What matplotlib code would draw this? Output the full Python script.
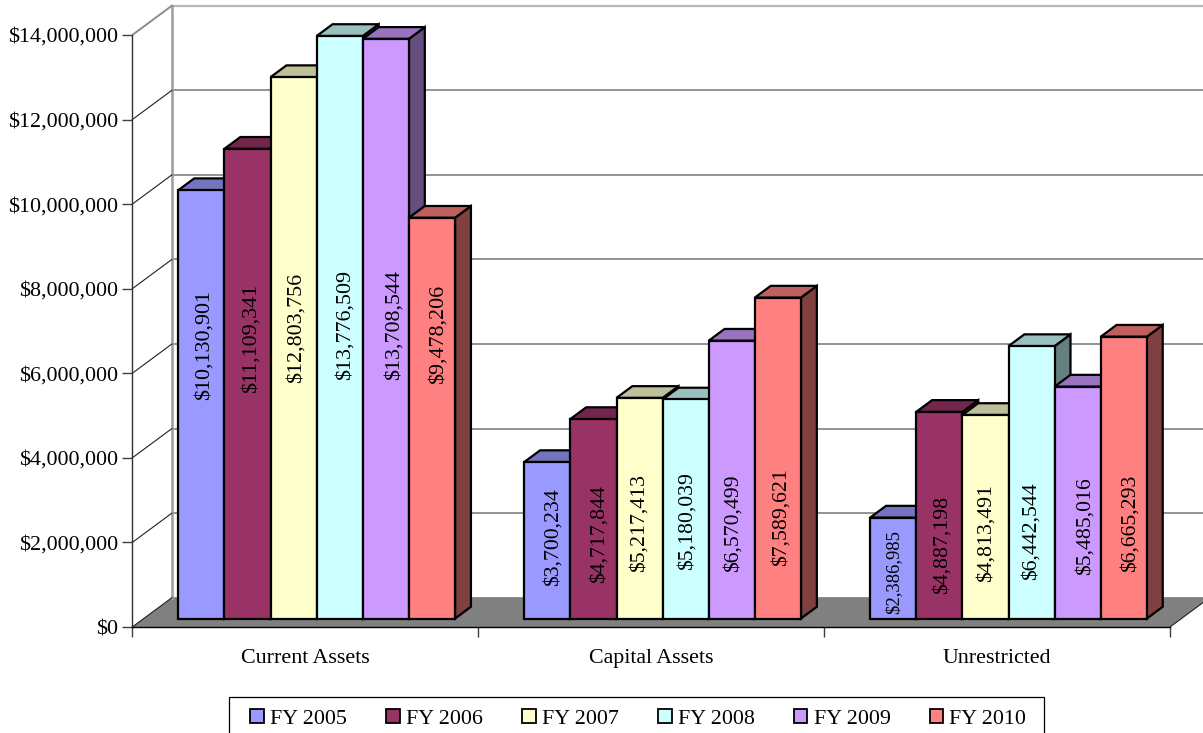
import matplotlib
matplotlib.use("Agg")
import matplotlib.pyplot as plt
from matplotlib.patches import Polygon, Patch, Rectangle
from matplotlib.ticker import StrMethodFormatter, FixedLocator, NullFormatter
from matplotlib.transforms import IdentityTransform

categories = ["Current Assets", "Capital Assets", "Unrestricted"]
fy_labels = ["FY 2005", "FY 2006", "FY 2007", "FY 2008", "FY 2009", "FY 2010"]
fy2005 = [10130901, 3700234, 2386985]
fy2006 = [11109341, 4717844, 4887198]
fy2007 = [12803756, 5217413, 4813491]
fy2008 = [13776509, 5180039, 6442544]
fy2009 = [13708544, 6570499, 5485016]
fy2010 = [9478206, 7589621, 6665293]
series = [fy2005, fy2006, fy2007, fy2008, fy2009, fy2010]
y_ticks = [0, 2000000, 4000000, 6000000, 8000000, 10000000, 12000000, 14000000]

# Styles and layout (pixels refer to the 1203x733 canvas)
colors = ["#9999FF", "#993366", "#FFFFCC", "#CCFFFF", "#CC99FF", "#FF8080"]
W, H = 1203, 733
AX_L, AX_R, AX_T, AX_B = 132.3, 1170.0, 35.0, 627.0
DEPTH_X_PX, DEPTH_Y_PX = 39.6, 29.3
FONT = 15.8
# Centre of every rotated data label, per series then category
label_center_x_px = [
    [202, 551, 891],
    [249, 597, 940],
    [294, 637, 984],
    [343, 685, 1029],
    [392, 731, 1083],
    [436, 779, 1128],
]
label_center_y_px = [
    [347, 539, 574],
    [340, 535.5, 546],
    [329.5, 525, 534],
    [327, 523, 533],
    [326, 524.5, 528],
    [335.5, 518.5, 525],
]
label_size = [[15.8, 15.7, 13.4]] + [[15.8, 15.7, 15.7]] * 5

plt.rcParams["font.family"] = ["Liberation Serif", "DejaVu Serif"]
fig = plt.figure(figsize=(W / 100, H / 100), dpi=100, facecolor="white")
ax = fig.add_axes([AX_L / W, 1 - AX_B / H, (AX_R - AX_L) / W, (AX_B - AX_T) / H])
ax.patch.set_visible(False)
ax.set_xlim(0, len(categories))
ax.set_ylim(0, y_ticks[-1])

dx = DEPTH_X_PX / ((AX_R - AX_L) / len(categories))
dy = DEPTH_Y_PX / (AX_B - AX_T) * y_ticks[-1]


def proj(x, y, d):
    return (x + d * dx, y + d * dy)


n_cat = len(categories)
# Floor
ax.add_patch(Polygon([proj(0, 0, 0), proj(n_cat, 0, 0), proj(n_cat, 0, 1), proj(0, 0, 1)],
                     closed=True, facecolor="#808080", edgecolor="none", zorder=1, clip_on=False))
# Back wall and side wall grid
for v in y_ticks:
    top = v == y_ticks[-1]
    p0, p1, p2 = proj(0, v, 0), proj(0, v, 1), proj(n_cat, v, 1)
    ax.plot([p1[0], p2[0]], [p1[1], p2[1]], color="#B8B8B8" if top else "#808080",
            lw=1.6 if top else 1.2, zorder=1.5, clip_on=False, solid_capstyle="butt")
    ax.plot([p0[0], p1[0]], [p0[1], p1[1]], color="#8C8C8C" if top else "#202020",
            lw=1.4 if top else 0.8, zorder=2, clip_on=False)
p0, p1 = proj(0, 0, 1), proj(0, y_ticks[-1], 1)
ax.plot([p0[0], p1[0]], [p0[1], p1[1]], color="#A0A0A0", lw=1.9, zorder=1.6, clip_on=False)
p0, p1 = proj(n_cat, 0, 0), proj(n_cat, 0, 1)
ax.plot([p0[0], p1[0]], [p0[1], p1[1]], color="#202020", lw=0.8, zorder=2, clip_on=False)


def shade(c, f):
    r, g, b = matplotlib.colors.to_rgb(c)
    return (r * f, g * f, b * f)


# Bars
gap = 0.75 / 7.5
bw = 1 / 7.5
D0, D1 = 0.29, 0.69
edge = dict(edgecolor="black", linewidth=1.6, joinstyle="miter", clip_on=False, zorder=3)
for c in range(n_cat):
    for s, vals in enumerate(series):
        v = vals[c]
        x0 = c + gap + s * bw
        x1 = x0 + bw
        a, b = proj(x0, 0, D0), proj(x1, 0, D0)
        ta, tb = proj(x0, v, D0), proj(x1, v, D0)
        ba, bb = proj(x0, v, D1), proj(x1, v, D1)
        rb = proj(x1, 0, D1)
        ax.add_patch(Polygon([b, tb, bb, rb], closed=True, facecolor=shade(colors[s], 0.5), **edge))
        ax.add_patch(Polygon([ta, tb, bb, ba], closed=True, facecolor=shade(colors[s], 0.75), **edge))
        ax.add_patch(Polygon([a, b, tb, ta], closed=True, facecolor=colors[s], **edge))
for c in range(n_cat):
    for s, vals in enumerate(series):
        ax.text(label_center_x_px[s][c] + 2.5, H - label_center_y_px[s][c] + 1.5, f"${vals[c]:,.0f}",
                rotation=90, ha="center", va="center", rotation_mode="anchor",
                fontsize=label_size[s][c], color="black",
                transform=IdentityTransform(), zorder=5, clip_on=False)

# Axes
for side in ("top", "right"):
    ax.spines[side].set_visible(False)
ax.spines["left"].set_color("#303030")
ax.spines["left"].set_linewidth(1.0)
ax.spines["bottom"].set_color("black")
ax.spines["bottom"].set_linewidth(1.0)
ax.spines["left"].set_zorder(2.5)
ax.spines["bottom"].set_zorder(2.5)
ax.yaxis.set_major_locator(FixedLocator(y_ticks))
ax.yaxis.set_major_formatter(StrMethodFormatter("${x:,.0f}"))
ax.tick_params(axis="y", length=7.2, width=1.0, color="#404040", pad=3, labelsize=FONT)
ax.xaxis.set_major_locator(FixedLocator([i + 0.5 for i in range(n_cat)]))
ax.set_xticklabels(categories)
ax.xaxis.set_minor_locator(FixedLocator(list(range(n_cat + 1))))
ax.xaxis.set_minor_formatter(NullFormatter())
ax.tick_params(axis="x", which="major", length=0, pad=15.5, labelsize=FONT)
ax.tick_params(axis="x", which="minor", length=7.2, width=1.0, color="#404040")

# Legend: frame box runs past the canvas bottom as in the reference
fig.add_artist(Rectangle((229 / W, 1 - 745 / H), 815 / W, 48 / H, transform=fig.transFigure,
                         facecolor="white", edgecolor="black", linewidth=0.9))
handles = [Patch(facecolor=c, edgecolor="black", linewidth=1.3, label=l) for c, l in zip(colors, fy_labels)]
leg = fig.legend(handles=handles, ncol=6, loc="upper left", bbox_to_anchor=(250 / W, 1 - 709 / H),
                 bbox_transform=fig.transFigure, borderaxespad=0, fontsize=FONT, frameon=False,
                 handlelength=0.63, handleheight=0.63, handletextpad=0.28, columnspacing=1.78,
                 borderpad=0, labelspacing=0)

fig.savefig("out.png", dpi=100)
